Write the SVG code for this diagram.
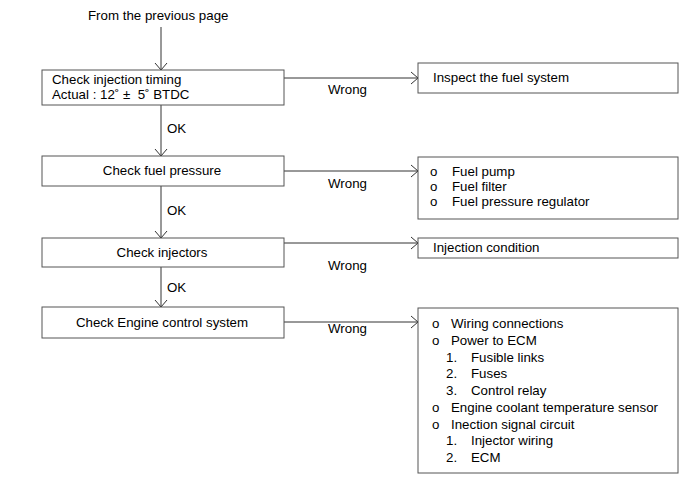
<svg xmlns="http://www.w3.org/2000/svg" width="700" height="489" viewBox="0 0 700 489">
<defs>
<marker id="arr" viewBox="-8 -7 9 14" markerWidth="9" markerHeight="14" refX="0" refY="0" orient="auto" markerUnits="userSpaceOnUse">
<path d="M-7,-6 L0,0 L-7,6" fill="none" stroke="#333" stroke-width="1"/>
</marker>
</defs>
<style>
text{font-family:"Liberation Sans",Arial,sans-serif;font-size:13.3px;fill:#000}
.box{fill:#fff;stroke:#555;stroke-width:1}
.ln{fill:none;stroke:#333;stroke-width:1}
.mid{text-anchor:middle}
</style>
<rect width="700" height="489" fill="#fff"/>
<text x="88" y="20">From the previous page</text>
<g id="connectors">
<line class="ln" x1="161" y1="27" x2="161" y2="70" marker-end="url(#arr)"/>
<line class="ln" x1="161" y1="105" x2="161" y2="156" marker-end="url(#arr)"/>
<line class="ln" x1="161" y1="186" x2="161" y2="238" marker-end="url(#arr)"/>
<line class="ln" x1="161" y1="267" x2="161" y2="307" marker-end="url(#arr)"/>
<line class="ln" x1="284" y1="78" x2="418" y2="78" marker-end="url(#arr)"/>
<line class="ln" x1="284" y1="171" x2="418" y2="171" marker-end="url(#arr)"/>
<line class="ln" x1="284" y1="243" x2="418" y2="243" marker-end="url(#arr)"/>
<line class="ln" x1="284" y1="322" x2="418" y2="322" marker-end="url(#arr)"/>
<text x="167" y="133">OK</text>
<text x="167" y="215">OK</text>
<text x="167" y="292">OK</text>
<text x="328" y="94">Wrong</text>
<text x="328" y="188">Wrong</text>
<text x="328" y="270">Wrong</text>
<text x="328" y="333">Wrong</text>
</g>
<g id="n1">
<rect class="box" x="42" y="70" width="242" height="35"/>
<text x="52" y="84">Check injection timing</text>
<text x="52" y="99" xml:space="preserve">Actual : 12˚ ±  5˚ BTDC</text>
</g>
<g id="n2">
<rect class="box" x="42" y="156" width="242" height="30"/>
<text class="mid" x="162" y="175">Check fuel pressure</text>
</g>
<g id="n3">
<rect class="box" x="42" y="238" width="242" height="29"/>
<text class="mid" x="162" y="257">Check injectors</text>
</g>
<g id="n4">
<rect class="box" x="42" y="307" width="242" height="31"/>
<text class="mid" x="162" y="327">Check Engine control system</text>
</g>
<g id="r1">
<rect class="box" x="418" y="63" width="260" height="30"/>
<text x="433" y="82">Inspect the fuel system</text>
</g>
<g id="r2">
<rect class="box" x="418" y="157" width="260" height="62"/>
<text x="430" y="176">o</text><text x="452" y="176">Fuel pump</text>
<text x="430" y="191">o</text><text x="452" y="191">Fuel filter</text>
<text x="430" y="206">o</text><text x="452" y="206">Fuel pressure regulator</text>
</g>
<g id="r3">
<rect class="box" x="418" y="238" width="260" height="20"/>
<text x="433" y="252">Injection condition</text>
</g>
<g id="r4">
<rect class="box" x="418" y="308" width="260" height="165"/>
<text x="432" y="328">o</text><text x="451" y="328">Wiring connections</text>
<text x="432" y="345">o</text><text x="451" y="345">Power to ECM</text>
<text x="446" y="362">1.</text><text x="471" y="362">Fusible links</text>
<text x="446" y="378">2.</text><text x="471" y="378">Fuses</text>
<text x="446" y="395">3.</text><text x="471" y="395">Control relay</text>
<text x="432" y="412">o</text><text x="451" y="412">Engine coolant temperature sensor</text>
<text x="432" y="429">o</text><text x="451" y="429">Inection signal circuit</text>
<text x="446" y="445">1.</text><text x="471" y="445">Injector wiring</text>
<text x="446" y="462">2.</text><text x="471" y="462">ECM</text>
</g>
</svg>
